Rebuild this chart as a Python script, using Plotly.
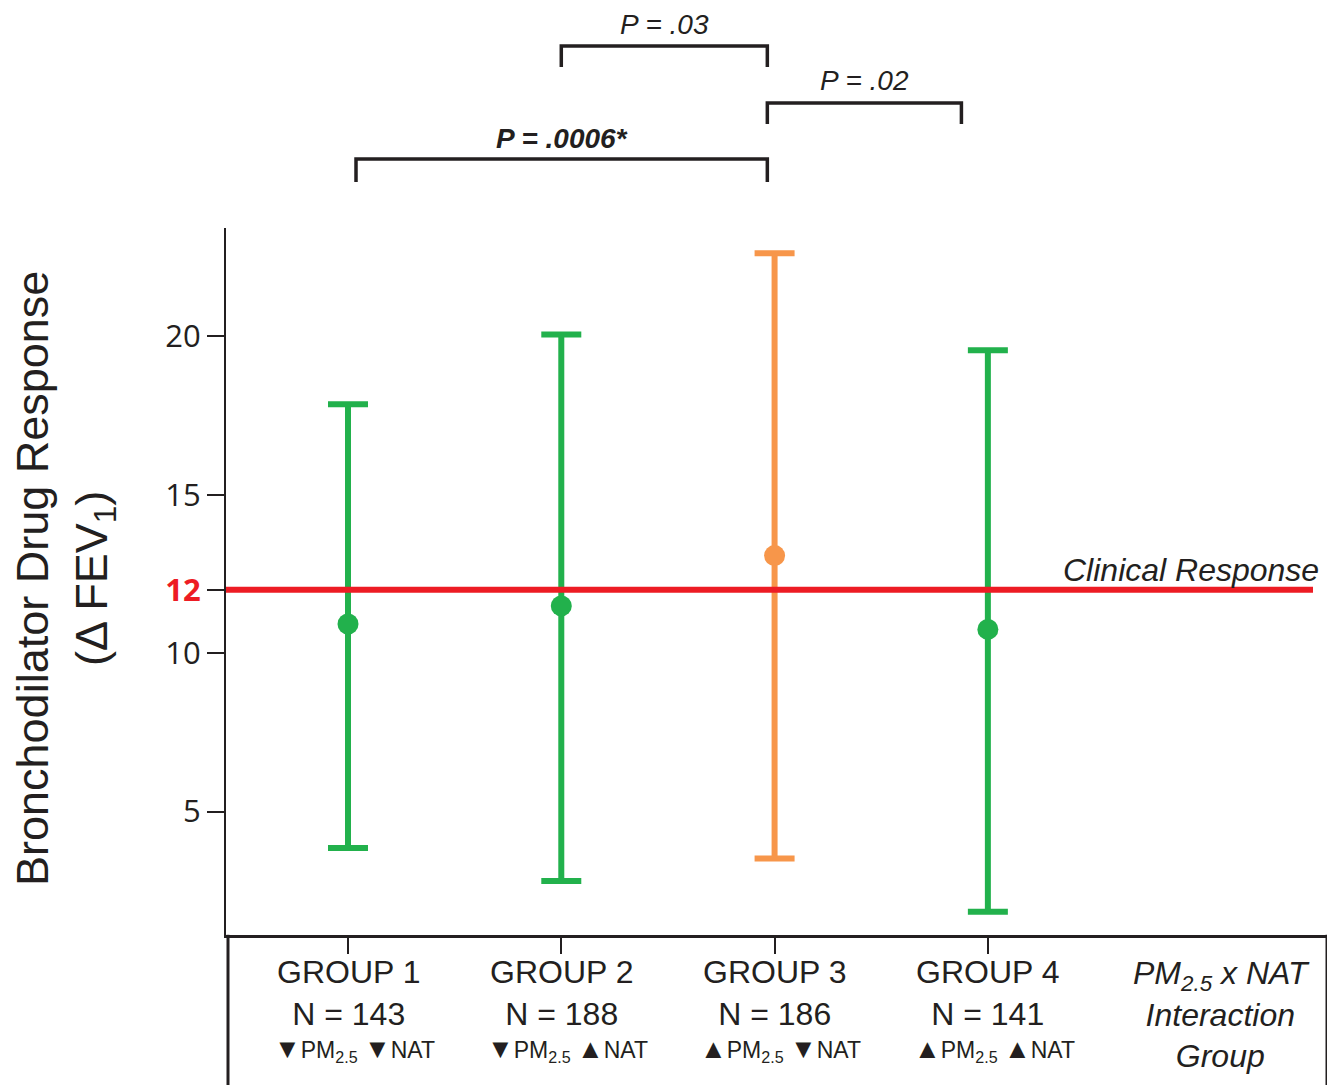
import plotly.graph_objects as go

# ---------------- data ----------------
groups = ["GROUP 1", "GROUP 2", "GROUP 3", "GROUP 4"]
group_pos = [1, 2, 3, 4]
n_values = [143, 188, 186, 141]
pm_dir = ["▼", "▼", "▲", "▲"]
nat_dir = ["▼", "▲", "▼", "▲"]
means = [10.92, 11.49, 13.08, 10.75]
upper = [17.86, 20.06, 22.62, 19.56]
lower = [3.85, 2.81, 3.52, 1.84]
colors = ["#22B14C", "#22B14C", "#F7964A", "#22B14C"]

clinical_threshold = 12
y_tickvals = [5, 10, 12, 15, 20]
y_ticktext = ["5", "10", '<span style="color:#ED1C24"><b>12</b></span>', "15", "20"]

p_labels = ["<i>P = .03</i>", "<i>P = .02</i>", "<b><i>P = .0006*</i></b>"]
bracket_x = [(2.0, 2.966), (2.966, 3.876), (1.0375, 2.966)]
bracket_top = [46, 103, 159]      # px from top of page (yaxis2 units)
bracket_leg = [67, 124, 182]
label_y = [24, 80, 138]

interaction_label = "<i>PM<sub>2.5</sub> x NAT<br>Interaction<br>Group</i>"

# ---------------- figure ----------------
OFF = 8                      # page body margin offset
W, H = 1335 - OFF, 1085 - OFF
ML = 226 - OFF
PLOT_RIGHT = 1327 - OFF
MR = W - PLOT_RIGHT
plot_w = PLOT_RIGHT - ML
INK = "#231F20"
FONT = "Liberation Sans, Arial, DejaVu Sans, sans-serif"


def py(p):
    """page pixel row -> paper y"""
    return (H - (p - OFF)) / H


def px(p):
    """page pixel column -> paper x"""
    return (p - OFF - ML) / plot_w


def arrow(a):
    return f'<span style="font-size:27px">{a}</span>'


y_dom = [py(934.8), py(228)]

fig = go.Figure()

for g, x, m, u, lo, c in zip(groups, group_pos, means, upper, lower, colors):
    fig.add_trace(go.Scatter(
        x=[x], y=[m], mode="markers", name=g, showlegend=False,
        marker=dict(size=21, color=c),
        error_y=dict(type="data", symmetric=False, array=[u - m], arrayminus=[m - lo],
                     color=c, thickness=6, width=20),
        xaxis="x", yaxis="y", cliponaxis=False,
    ))

# significance brackets on an invisible top axis
for (x0, x1), yt, yl, ly, lab in zip(bracket_x, bracket_top, bracket_leg, label_y, p_labels):
    fig.add_trace(go.Scatter(
        x=[x0, x0, x1, x1], y=[yl, yt, yt, yl], mode="lines", showlegend=False,
        line=dict(color=INK, width=3.5), xaxis="x", yaxis="y2", hoverinfo="skip",
    ))
    fig.add_annotation(x=(x0 + x1) / 2, y=ly, xref="x", yref="y2", text=lab,
                       showarrow=False, font=dict(size=28, color=INK, family=FONT),
                       xanchor="center", yanchor="middle")

# clinical response line
fig.add_shape(type="line", xref="paper", yref="y", x0=0, x1=px(1313),
              y0=clinical_threshold, y1=clinical_threshold,
              line=dict(color="#ED1C24", width=6), layer="above")
fig.add_annotation(x=px(1321), y=clinical_threshold, xref="paper", yref="y",
                   text="<i>Clinical Response</i>", showarrow=False,
                   xanchor="right", yanchor="middle", yshift=20,
                   font=dict(size=32, color=INK, family=FONT))

# table box below the x axis
for xp in (px(228), 1):
    fig.add_shape(type="line", xref="paper", yref="paper", x0=xp, x1=xp,
                  y0=-0.01, y1=y_dom[0], line=dict(color=INK, width=3))

# table text
for g, x, n, pa, na in zip(groups, group_pos, n_values, pm_dir, nat_dir):
    fig.add_annotation(x=x, y=py(993), xref="x", yref="paper",
                       text=f"{g}<br>N = {n}", showarrow=False,
                       xanchor="center", yanchor="middle",
                       font=dict(size=32, color=INK, family=FONT))
    fig.add_annotation(x=x + 0.03, y=py(1050), xref="x", yref="paper",
                       text=f"{arrow(pa)}PM<sub>2.5</sub> {arrow(na)}NAT",
                       showarrow=False, xanchor="center", yanchor="middle",
                       font=dict(size=23, color=INK, family=FONT))
fig.add_annotation(x=5.097, y=py(1014), xref="x", yref="paper",
                   text=interaction_label, showarrow=False,
                   xanchor="center", yanchor="middle",
                   font=dict(size=32, color=INK, family=FONT))

# y-axis title
fig.add_annotation(x=px(65), y=py(579), xref="paper", yref="paper",
                   text="Bronchodilator Drug Response<br>(Δ FEV<sub>1</sub>)",
                   textangle=-90, showarrow=False, xanchor="center", yanchor="middle",
                   font=dict(size=45, color=INK, family=FONT))

fig.update_layout(
    width=W, height=H,
    margin=dict(l=ML, r=MR, t=0, b=0, pad=0),
    paper_bgcolor="white", plot_bgcolor="white",
    showlegend=False,
    xaxis=dict(domain=[0, 1], range=[0.428, 5.59], showgrid=False, zeroline=False,
               showline=True, linewidth=3, linecolor=INK,
               tickmode="array", tickvals=group_pos, ticktext=[""] * 4,
               ticks="outside", ticklen=16, tickwidth=1.5, tickcolor=INK,
               anchor="y"),
    yaxis=dict(domain=y_dom, range=[1.11, 23.42], showgrid=False, zeroline=False,
               showline=True, linewidth=2, linecolor=INK,
               tickmode="array", tickvals=y_tickvals, ticktext=y_ticktext,
               ticks="outside", ticklen=17, tickwidth=1.5, tickcolor=INK,
               tickfont=dict(size=31, color=INK, family="Open Sans, Noto Sans, sans-serif"),
               anchor="x"),
    yaxis2=dict(domain=[y_dom[1], 1], range=[228, OFF], visible=False, anchor="x",
                showgrid=False, zeroline=False),
)

fig.write_html("out.html")
